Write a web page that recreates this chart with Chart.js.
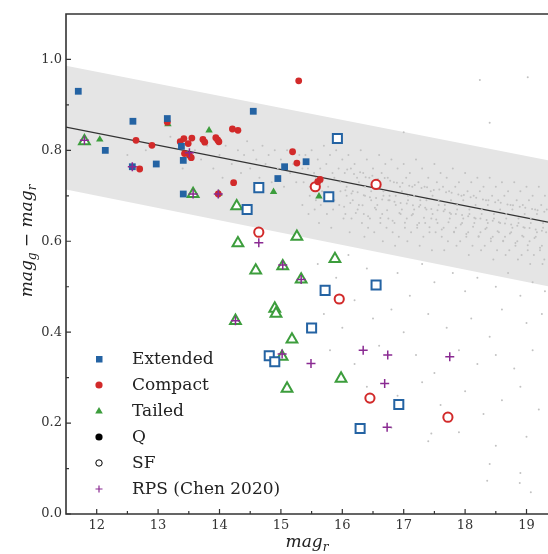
<!DOCTYPE html>
<html>
<head>
<meta charset="utf-8">
<script src="https://cdn.jsdelivr.net/npm/chart.js@4/dist/chart.umd.min.js"></script>
<style>html,body{margin:0;padding:0;background:#fff}</style>
</head>
<body>
<canvas id="cmd" width="548" height="554"></canvas>
<script>
// ---- data (x = mag_r, y = mag_g - mag_r) ----
const extendedQ = [[11.70,0.930],[12.14,0.800],[12.59,0.864],[12.58,0.764],[12.97,0.770],[13.15,0.870],
  [13.38,0.809],[13.41,0.778],[13.41,0.704],[14.55,0.886],[14.95,0.738],[15.06,0.764],[15.41,0.775]];
const extendedSF = [[14.64,0.718],[14.45,0.670],[15.92,0.826],[15.78,0.698],[16.55,0.504],[15.72,0.492],
  [15.50,0.409],[14.81,0.348],[14.90,0.335],[16.92,0.241],[16.29,0.188]];
const compactQ = [[12.64,0.822],[12.70,0.759],[12.90,0.811],[13.36,0.819],[13.42,0.826],[13.49,0.815],
  [13.55,0.827],[13.51,0.789],[13.54,0.784],[13.43,0.793],[13.73,0.824],[13.76,0.818],[13.94,0.828],
  [13.99,0.819],[13.97,0.823],[14.21,0.847],[14.30,0.844],[14.23,0.729],[15.19,0.797],[15.26,0.772],
  [15.29,0.953],[15.60,0.731],[15.64,0.736],[13.98,0.704],[13.15,0.862]];
const compactSF = [[14.64,0.620],[15.56,0.720],[16.55,0.725],[15.95,0.473],[16.45,0.255],[17.72,0.213]];
const tailedQ = [[12.05,0.824],[13.16,0.858],[13.83,0.844],[14.88,0.709],[15.62,0.699],[13.99,0.705]];
const tailedSF = [[11.80,0.820],[13.57,0.704],[14.28,0.677],[14.30,0.596],[14.59,0.536],[15.26,0.610],
  [15.03,0.545],[15.33,0.516],[15.88,0.561],[14.90,0.452],[14.92,0.441],[14.26,0.425],[15.18,0.384],
  [15.02,0.346],[15.10,0.276],[15.98,0.298]];
const rpsChen2020 = [[11.80,0.822],[12.58,0.764],[13.51,0.795],[13.57,0.704],[13.98,0.704],[14.26,0.425],
  [14.64,0.597],[15.03,0.548],[15.33,0.516],[15.02,0.352],[16.34,0.360],[16.74,0.350],[17.75,0.346],
  [15.49,0.331],[16.69,0.287],[16.73,0.191]];

// red-sequence fit and its band (end points)
const fitMag = [11.5, 19.35];
const fitColor = [0.851, 0.642];
const bandUpper = [0.986, 0.778];
const bandLower = [0.714, 0.501];

// background galaxies (gray dots)
const fieldGalaxies = [
  [12.5,0.79],[12.8,0.80],[13.2,0.83],[13.4,0.76],[13.6,0.80],[13.7,0.78],[13.8,0.81],[13.9,0.76],[14.0,0.79],
  [14.05,0.74],[14.1,0.81],[14.2,0.77],[14.3,0.80],[14.35,0.75],[14.4,0.79],[14.45,0.82],[14.5,0.76],[14.55,0.80],
  [14.6,0.78],[14.65,0.74],[14.7,0.81],[14.75,0.77],[14.8,0.79],[14.85,0.73],[14.9,0.80],[14.95,0.76],[15.0,0.78],
  [15.05,0.72],[15.1,0.80],[15.15,0.75],[15.2,0.77],[15.25,0.73],[15.3,0.79],[15.35,0.76],
  [15.40,0.79],[15.44,0.76],[15.37,0.73],[15.47,0.70],[15.35,0.68],
  [15.50,0.80],[15.54,0.75],[15.47,0.72],[15.57,0.69],[15.45,0.66],
  [15.60,0.78],[15.64,0.76],[15.57,0.74],[15.67,0.71],[15.55,0.67],[15.62,0.64],
  [15.70,0.81],[15.74,0.77],[15.67,0.73],[15.77,0.70],[15.65,0.68],
  [15.80,0.79],[15.84,0.75],[15.77,0.72],[15.87,0.69],[15.75,0.66],[15.82,0.63],
  [15.90,0.80],[15.94,0.76],[15.87,0.74],[15.97,0.71],[15.85,0.67],
  [16.00,0.78],[16.04,0.75],[15.97,0.73],[16.07,0.70],[15.95,0.68],[16.02,0.65],
  [16.10,0.79],[16.14,0.76],[16.07,0.72],[16.17,0.69],[16.05,0.66],[16.12,0.62],
  [16.20,0.77],[16.24,0.74],[16.17,0.71],[16.27,0.68],[16.15,0.65],
  [16.30,0.80],[16.34,0.75],[16.27,0.73],[16.37,0.70],[16.25,0.67],[16.32,0.64],[16.36,0.61],
  [16.40,0.78],[16.44,0.74],[16.37,0.72],[16.47,0.69],[16.35,0.66],[16.42,0.63],
  [16.50,0.76],[16.54,0.73],[16.47,0.71],[16.57,0.68],[16.45,0.65],[16.52,0.62],
  [16.60,0.79],[16.64,0.75],[16.57,0.72],[16.67,0.70],[16.55,0.67],[16.62,0.64],[16.66,0.60],
  [16.70,0.77],[16.74,0.74],[16.67,0.71],[16.77,0.69],[16.65,0.66],[16.72,0.63],
  [16.80,0.78],[16.84,0.73],[16.77,0.70],[16.87,0.68],[16.75,0.65],[16.82,0.62],[16.86,0.59],
  [16.90,0.76],[16.94,0.72],[16.87,0.70],[16.97,0.67],[16.85,0.64],[16.92,0.61],
  [17.00,0.77],[17.04,0.74],[16.97,0.71],[17.07,0.69],[16.95,0.66],[17.02,0.63],[17.06,0.60],
  [17.10,0.75],[17.14,0.72],[17.07,0.70],[17.17,0.67],[17.05,0.65],[17.12,0.62],
  [17.20,0.78],[17.24,0.73],[17.17,0.70],[17.27,0.68],[17.15,0.66],[17.22,0.63],[17.26,0.59],
  [17.30,0.76],[17.34,0.72],[17.27,0.69],[17.37,0.67],[17.25,0.64],[17.32,0.61],
  [17.40,0.74],[17.44,0.71],[17.37,0.69],[17.47,0.66],[17.35,0.64],[17.42,0.62],[17.46,0.58],
  [17.50,0.77],[17.54,0.73],[17.47,0.70],[17.57,0.68],[17.45,0.65],[17.52,0.62],
  [17.60,0.75],[17.64,0.72],[17.57,0.69],[17.67,0.67],[17.55,0.64],[17.62,0.61],[17.66,0.58],
  [17.70,0.74],[17.74,0.71],[17.67,0.68],[17.77,0.66],[17.65,0.63],[17.72,0.60],
  [17.80,0.76],[17.84,0.72],[17.77,0.69],[17.87,0.67],[17.75,0.65],[17.82,0.62],[17.86,0.59],
  [17.90,0.73],[17.94,0.70],[17.87,0.68],[17.97,0.65],[17.85,0.63],[17.92,0.60],
  [18.00,0.75],[18.04,0.71],[17.97,0.69],[18.07,0.66],[17.95,0.64],[18.02,0.61],[18.06,0.57],
  [18.10,0.73],[18.14,0.70],[18.07,0.67],[18.17,0.65],[18.05,0.62],[18.12,0.59],
  [18.20,0.74],[18.24,0.71],[18.17,0.68],[18.27,0.66],[18.15,0.64],[18.22,0.61],[18.26,0.58],
  [18.30,0.72],[18.34,0.69],[18.27,0.67],[18.37,0.64],[18.25,0.62],[18.32,0.59],
  [18.40,0.74],[18.44,0.70],[18.37,0.68],[18.47,0.65],[18.35,0.63],[18.42,0.60],[18.46,0.56],
  [18.50,0.72],[18.54,0.69],[18.47,0.66],[18.57,0.64],[18.45,0.61],[18.52,0.58],
  [18.60,0.73],[18.64,0.70],[18.57,0.67],[18.67,0.65],[18.55,0.62],[18.62,0.60],[18.66,0.57],
  [18.70,0.71],[18.74,0.68],[18.67,0.66],[18.77,0.63],[18.65,0.61],[18.72,0.58],
  [18.80,0.73],[18.84,0.69],[18.77,0.67],[18.87,0.64],[18.75,0.62],[18.82,0.59],[18.86,0.56],
  [18.90,0.71],[18.94,0.68],[18.87,0.65],[18.97,0.63],[18.85,0.60],[18.92,0.57],
  [19.00,0.72],[19.04,0.69],[18.97,0.66],[19.07,0.64],[18.95,0.61],[19.02,0.58],[19.06,0.55],
  [19.10,0.70],[19.14,0.67],[19.07,0.65],[19.17,0.62],[19.05,0.60],[19.12,0.57],
  [19.20,0.72],[19.24,0.68],[19.17,0.66],[19.27,0.63],[19.15,0.61],[19.22,0.58],[19.26,0.55],
  [19.30,0.70],[19.33,0.67],[19.27,0.64],[19.32,0.62],[19.25,0.59],[19.29,0.56],
  [16.05,0.712],[16.08,0.758],[16.03,0.676],[16.15,0.705],[16.19,0.748],[16.13,0.684],
  [16.25,0.708],[16.29,0.752],[16.22,0.662],[16.35,0.701],[16.38,0.741],[16.33,0.679],
  [16.45,0.697],[16.49,0.744],[16.42,0.655],[16.55,0.695],[16.58,0.737],[16.53,0.674],
  [16.65,0.692],[16.69,0.739],[16.62,0.651],[16.75,0.690],[16.78,0.733],[16.73,0.668],
  [16.85,0.687],[16.89,0.729],[16.82,0.645],[16.95,0.684],[16.98,0.728],[16.93,0.662],
  [17.05,0.683],[17.09,0.722],[17.02,0.641],[17.15,0.679],[17.18,0.724],[17.13,0.657],
  [17.25,0.676],[17.29,0.717],[17.22,0.636],[17.35,0.674],[17.38,0.719],[17.33,0.652],
  [17.45,0.671],[17.49,0.713],[17.42,0.631],[17.55,0.668],[17.58,0.714],[17.53,0.648],
  [17.65,0.666],[17.69,0.708],[17.62,0.626],[17.75,0.663],[17.78,0.707],[17.73,0.642],
  [17.85,0.660],[17.89,0.703],[17.82,0.621],[17.95,0.658],[17.98,0.702],[17.93,0.637],
  [18.05,0.655],[18.09,0.697],[18.02,0.616],[18.15,0.652],[18.18,0.696],[18.13,0.632],
  [18.25,0.650],[18.29,0.692],[18.22,0.611],[18.35,0.647],[18.38,0.690],[18.33,0.627],
  [18.45,0.645],[18.49,0.686],[18.42,0.606],[18.55,0.642],[18.58,0.685],[18.53,0.622],
  [18.65,0.639],[18.69,0.681],[18.62,0.601],[18.75,0.637],[18.78,0.679],[18.73,0.617],
  [18.85,0.634],[18.89,0.676],[18.82,0.596],[18.95,0.631],[18.98,0.674],[18.93,0.612],
  [19.05,0.629],[19.09,0.671],[19.02,0.591],[19.15,0.626],[19.18,0.668],[19.13,0.607],
  [19.25,0.623],[19.29,0.665],[19.22,0.586],
  [15.6,0.55],[15.9,0.52],[16.1,0.57],[16.4,0.54],[16.2,0.47],[16.6,0.50],[16.9,0.53],[17.1,0.48],[17.3,0.55],
  [17.5,0.51],[17.8,0.53],[18.0,0.49],[18.2,0.52],[18.5,0.50],[18.7,0.53],[18.9,0.48],[19.1,0.51],[19.3,0.49],
  [15.7,0.44],[16.0,0.41],[16.5,0.43],[16.8,0.45],[17.0,0.40],[17.4,0.44],[17.7,0.41],[18.1,0.43],[18.4,0.39],
  [18.6,0.45],[19.0,0.42],[19.25,0.44],[15.8,0.36],[16.2,0.33],[16.6,0.37],[17.2,0.35],[17.5,0.31],[17.9,0.36],
  [18.2,0.33],[18.5,0.35],[18.8,0.32],[19.1,0.36],[16.4,0.28],[16.9,0.26],[17.3,0.29],[17.45,0.177],[17.6,0.24],
  [18.0,0.27],[18.3,0.22],[18.6,0.25],[18.9,0.28],[19.2,0.23],[16.8,0.19],[17.4,0.16],[17.9,0.18],[18.5,0.15],
  [19.0,0.17],[18.4,0.11],[18.9,0.09],[19.07,0.048],[18.36,0.073],[18.89,0.068],
  [18.24,0.955],[19.02,0.961],[18.40,0.861],[17.0,0.84]
];

const xTicks = [12, 13, 14, 15, 16, 17, 18, 19];
const xMinor = [12.5, 13.5, 14.5, 15.5, 16.5, 17.5, 18.5];
const yTicks = [0.0, 0.2, 0.4, 0.6, 0.8, 1.0];
const yMinor = [0.1, 0.3, 0.5, 0.7, 0.9];
const legendLabels = ['Extended', 'Compact', 'Tailed', 'Q', 'SF', 'RPS (Chen 2020)'];

const BLUE = '#2463a3', RED = '#d22a2a', GREEN = '#3c9d3c', PURPLE = '#8a2a92';
const SERIF = "'DejaVu Serif', serif";

function pts(arr) { return arr.map(p => ({x: p[0], y: p[1]})); }

const frame = {
  id: 'frame',
  afterDraw(chart) {
    const {ctx, chartArea: a, scales: {x, y}} = chart;
    ctx.save();
    ctx.strokeStyle = '#333';
    ctx.lineWidth = 1.2;
    ctx.beginPath();
    xTicks.forEach(v => { const p = x.getPixelForValue(v); ctx.moveTo(p, a.bottom); ctx.lineTo(p, a.bottom - 5); });
    xMinor.forEach(v => { const p = x.getPixelForValue(v); ctx.moveTo(p, a.bottom); ctx.lineTo(p, a.bottom - 3); });
    yTicks.forEach(v => { const p = y.getPixelForValue(v); ctx.moveTo(a.left, p); ctx.lineTo(a.left + 5, p); });
    yMinor.forEach(v => { const p = y.getPixelForValue(v); ctx.moveTo(a.left, p); ctx.lineTo(a.left + 3, p); });
    ctx.stroke();
    ctx.lineWidth = 1.6;
    ctx.beginPath();
    ctx.moveTo(a.right, a.top); ctx.lineTo(a.left, a.top); ctx.lineTo(a.left, a.bottom); ctx.lineTo(a.right, a.bottom);
    ctx.stroke();

    // axis titles with subscripts
    ctx.fillStyle = '#222';
    ctx.textBaseline = 'alphabetic';
    const big = 'italic 17px ' + SERIF, sub = 'italic 12px ' + SERIF, up = '17px ' + SERIF;
    function run(parts, measureOnly) {
      let w = 0;
      parts.forEach(([t, f, dy]) => {
        ctx.font = f;
        if (!measureOnly) ctx.fillText(t, w, dy);
        w += ctx.measureText(t).width;
      });
      return w;
    }
    const xt = [['mag', big, 0], ['r', sub, 4]];
    let w = run(xt, true);
    ctx.save();
    ctx.translate((a.left + a.right) / 2 - w / 2, 547);
    run(xt, false);
    ctx.restore();

    const yt = [['mag', big, 0], ['g', sub, 4], [' \u2212 ', up, 0], ['mag', big, 0], ['r', sub, 4]];
    w = run(yt, true);
    ctx.save();
    ctx.translate(32, 241 + w / 2);
    ctx.rotate(-Math.PI / 2);
    run(yt, false);
    ctx.restore();

    // legend
    const lx = 99, ly0 = 359, dy = 26;
    ctx.font = '17px ' + SERIF;
    ctx.textBaseline = 'middle';
    legendLabels.forEach((t, i) => {
      const cy = ly0 + i * dy;
      ctx.fillStyle = '#222';
      ctx.fillText(t, 132, cy + 1);
      ctx.beginPath();
      if (i === 0) { ctx.fillStyle = BLUE; ctx.fillRect(lx - 3, cy - 3, 6.5, 6.5); }
      else if (i === 1) { ctx.fillStyle = RED; ctx.arc(lx, cy, 3.6, 0, 2 * Math.PI); ctx.fill(); }
      else if (i === 2) { ctx.fillStyle = GREEN; ctx.moveTo(lx, cy - 4); ctx.lineTo(lx + 3.8, cy + 2.6); ctx.lineTo(lx - 3.8, cy + 2.6); ctx.closePath(); ctx.fill(); }
      else if (i === 3) { ctx.fillStyle = '#000'; ctx.arc(lx, cy, 3.6, 0, 2 * Math.PI); ctx.fill(); }
      else if (i === 4) { ctx.strokeStyle = '#000'; ctx.lineWidth = 1; ctx.arc(lx, cy, 3.2, 0, 2 * Math.PI); ctx.stroke(); }
      else { ctx.strokeStyle = PURPLE; ctx.lineWidth = 1.2; ctx.moveTo(lx - 3.5, cy); ctx.lineTo(lx + 3.5, cy); ctx.moveTo(lx, cy - 3.5); ctx.lineTo(lx, cy + 3.5); ctx.stroke(); }
    });
    ctx.restore();
  }
};

new Chart(document.getElementById('cmd'), {
  type: 'scatter',
  data: {
    datasets: [
      {label: 'RPS', data: pts(rpsChen2020), order: 0, pointStyle: 'cross', pointRadius: 4.5,
        borderColor: PURPLE, backgroundColor: PURPLE, pointBorderWidth: 1.5},
      {label: 'Extended Q', data: pts(extendedQ), order: 1, pointStyle: 'rect', pointRadius: 4.8,
        borderColor: BLUE, backgroundColor: BLUE, pointBorderWidth: 0},
      {label: 'Compact Q', data: pts(compactQ), order: 2, pointStyle: 'circle', pointRadius: 3.4,
        borderColor: RED, backgroundColor: RED, pointBorderWidth: 0},
      {label: 'Tailed Q', data: pts(tailedQ), order: 3, pointStyle: 'triangle', pointRadius: 4.3,
        borderColor: GREEN, backgroundColor: GREEN, pointBorderWidth: 0},
      {label: 'Extended SF', data: pts(extendedSF), order: 4, pointStyle: 'rect', pointRadius: 6.4,
        borderColor: BLUE, backgroundColor: '#fff', pointBorderWidth: 2},
      {label: 'Compact SF', data: pts(compactSF), order: 5, pointStyle: 'circle', pointRadius: 4.6,
        borderColor: RED, backgroundColor: '#fff', pointBorderWidth: 2},
      {label: 'Tailed SF', data: pts(tailedSF), order: 6, pointStyle: 'triangle', pointRadius: 6.2,
        borderColor: GREEN, backgroundColor: '#fff', pointBorderWidth: 2},
      {label: 'field', data: pts(fieldGalaxies), order: 7, pointStyle: 'circle', pointRadius: 1.0,
        borderColor: '#c2c2c2', backgroundColor: '#c2c2c2', pointBorderWidth: 0},
      {label: 'fit', data: pts(fitMag.map((m, i) => [m, fitColor[i]])), order: 8, showLine: true,
        borderColor: '#333', borderWidth: 1.3, pointRadius: 0},
      {label: 'band upper', data: pts(fitMag.map((m, i) => [m, bandUpper[i]])), order: 9, showLine: true,
        borderWidth: 0, borderColor: 'rgba(0,0,0,0)', backgroundColor: '#e5e5e5', pointRadius: 0, fill: '+1'},
      {label: 'band lower', data: pts(fitMag.map((m, i) => [m, bandLower[i]])), order: 10, showLine: true,
        borderWidth: 0, borderColor: 'rgba(0,0,0,0)', pointRadius: 0, fill: false}
    ]
  },
  options: {
    responsive: false,
    animation: false,
    devicePixelRatio: 1,
    layout: {autoPadding: false, padding: {top: 14, right: 0, bottom: 0, left: 0}},
    plugins: {legend: {display: false}, tooltip: {enabled: false}},
    scales: {
      x: {
        type: 'linear', min: 11.5, max: 19.35,
        grid: {display: false, drawTicks: false, tickLength: 0},
        border: {display: false},
        afterFit(s) { s.height = 40; s.paddingLeft = 0; s.paddingRight = 0; },
        ticks: {stepSize: 1, includeBounds: false, padding: 4, color: '#333',
          font: {family: SERIF, size: 13}, maxRotation: 0, autoSkip: false,
          callback: v => String(v)}
      },
      y: {
        type: 'linear', min: 0, max: 1.1,
        grid: {display: false, drawTicks: false, tickLength: 0},
        border: {display: false},
        afterFit(s) { s.width = 66; s.paddingTop = 0; s.paddingBottom = 0; },
        ticks: {stepSize: 0.2, includeBounds: false, padding: 4, color: '#333',
          font: {family: SERIF, size: 13}, callback: v => v.toFixed(1)}
      }
    }
  },
  plugins: [frame]
});
</script>
</body>
</html>
